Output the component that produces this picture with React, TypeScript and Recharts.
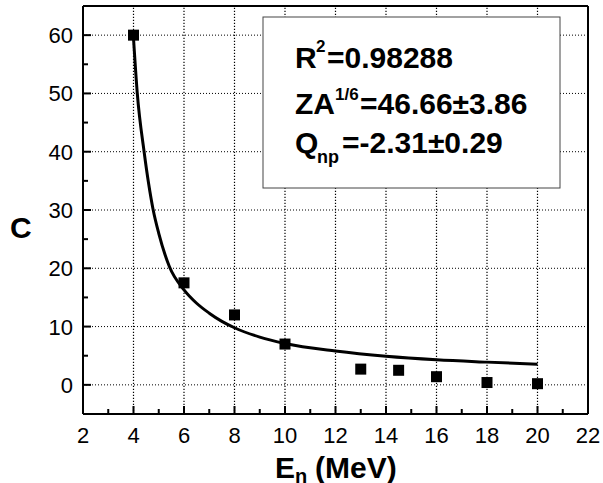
import React from 'react';
import { ComposedChart, Scatter, Line, XAxis, YAxis } from 'recharts';

// measured points
const energies = [4, 6, 8, 10, 13, 14.5, 16, 18, 20];
const cValues = [60, 17.5, 12, 7, 2.7, 2.5, 1.4, 0.4, 0.2];

// fitted curve
const fitX = [4, 4.15, 4.42, 4.6, 4.78, 5, 5.42, 6, 6.5, 7, 7.5, 8, 9, 10, 12, 14, 16, 18, 20];
const fitY = [59.5, 50, 40, 34.5, 30, 26, 20.3, 16.3, 14.0, 12.3, 10.9, 9.8, 8.2, 7.1, 5.8, 4.9, 4.3, 3.9, 3.55];

const xTicks = [2, 3, 4, 5, 6, 7, 8, 9, 10, 11, 12, 13, 14, 15, 16, 17, 18, 19, 20, 21, 22];
const yTicks = [0, 5, 10, 15, 20, 25, 30, 35, 40, 45, 50, 55, 60];
const xRange = [2, 22];
const yRange = [-5, 65];

const points = energies.map((x, i) => ({ x, y: cValues[i] }));
const fit = fitX.map((x, i) => ({ x, y: fitY[i] }));

const W = 603;
const H = 483;
const MARGIN = { top: 5, right: 14, left: 23, bottom: 39 };
const Y_AXIS_W = 60;
const X_AXIS_H = 30;
// plot box size, used to run the dotted grid from the tick to the opposite axis
const PLOT_W = W - MARGIN.left - MARGIN.right - Y_AXIS_W - 1;
const PLOT_H = H - MARGIN.top - MARGIN.bottom - X_AXIS_H - 1;

const FONT = '"Liberation Sans", Arial, sans-serif';
const tickText = { fontSize: 22, fontFamily: FONT };

// bottom axis also carries the vertical grid
const BottomTick = (p: any) => {
  const v = p.payload.value;
  const major = v % 2 === 0;
  const inner = v > xRange[0] && v < xRange[1];
  return (
    <g>
      {major && inner && (
        <path
          d={`M${p.x},${p.y} V${p.y - PLOT_H}`}
          fill="none"
          stroke="#000"
          strokeWidth={1.2}
          strokeDasharray="1.2 1.8"
        />
      )}
      <line x1={p.x} x2={p.x} y1={p.y} y2={p.y - (major ? 8 : 5)} stroke="#000" strokeWidth={2} />
      {major && (
        <text x={p.x} y={p.y + 29} textAnchor="middle" fill="#000" style={tickText}>
          {v}
        </text>
      )}
    </g>
  );
};

const TopTick = (p: any) => {
  const major = p.payload.value % 2 === 0;
  return <line x1={p.x} x2={p.x} y1={p.y} y2={p.y + (major ? 8 : 5)} stroke="#000" strokeWidth={2} />;
};

// left axis also carries the horizontal grid
const LeftTick = (p: any) => {
  const v = p.payload.value;
  const major = v % 10 === 0;
  return (
    <g>
      {major && (
        <line x1={p.x} x2={p.x + PLOT_W} y1={p.y} y2={p.y} stroke="#000" strokeWidth={1} strokeDasharray="1 2" />
      )}
      <line x1={p.x} x2={p.x + (major ? 8 : 5)} y1={p.y} y2={p.y} stroke="#000" strokeWidth={2} />
      {major && (
        <text x={p.x - 10} y={p.y + 8} textAnchor="end" fill="#000" style={tickText}>
          {v}
        </text>
      )}
    </g>
  );
};

const RightTick = (p: any) => {
  const major = p.payload.value % 10 === 0;
  return <line x1={p.x} x2={p.x - (major ? 8 : 5)} y1={p.y} y2={p.y} stroke="#000" strokeWidth={2} />;
};

const SquareDot = (p: any) => <rect x={p.cx - 5.5} y={p.cy - 5.5} width={11} height={11} fill="#000" />;

export default function App() {
  return (
    <div style={{ position: 'absolute', left: 0, top: 0, width: W, height: H, background: '#fff' }}>
      <ComposedChart width={W} height={H} margin={MARGIN}>
        <XAxis
          xAxisId="b"
          dataKey="x"
          type="number"
          domain={xRange}
          ticks={xTicks}
          interval={0}
          tickSize={0}
          tickMargin={0}
          height={X_AXIS_H}
          tick={<BottomTick />}
          axisLine={{ stroke: '#000', strokeWidth: 2 }}
        />
        <XAxis
          xAxisId="t"
          orientation="top"
          dataKey="x"
          type="number"
          domain={xRange}
          ticks={xTicks}
          interval={0}
          tickSize={0}
          tickMargin={0}
          height={1}
          tick={<TopTick />}
          axisLine={{ stroke: '#000', strokeWidth: 2 }}
        />
        <YAxis
          yAxisId="l"
          type="number"
          domain={yRange}
          ticks={yTicks}
          interval={0}
          tickSize={0}
          tickMargin={0}
          width={Y_AXIS_W}
          tick={<LeftTick />}
          axisLine={{ stroke: '#000', strokeWidth: 2 }}
        />
        <YAxis
          yAxisId="r"
          orientation="right"
          type="number"
          domain={yRange}
          ticks={yTicks}
          interval={0}
          tickSize={0}
          tickMargin={0}
          width={1}
          tick={<RightTick />}
          axisLine={{ stroke: '#000', strokeWidth: 2 }}
        />
        <Line
          xAxisId="b"
          yAxisId="l"
          data={fit}
          dataKey="y"
          type="monotone"
          stroke="#000"
          strokeWidth={3}
          dot={false}
          activeDot={false}
          isAnimationActive={false}
        />
        <Scatter
          xAxisId="b"
          yAxisId="l"
          data={points}
          dataKey="y"
          shape={<SquareDot />}
          isAnimationActive={false}
        />
      </ComposedChart>
      <svg
        width={W}
        height={H}
        style={{ position: 'absolute', left: 0, top: 0, pointerEvents: 'none' }}
        fontFamily={FONT}
        fontWeight="bold"
      >
        <rect x={263} y={17} width={297} height={171} fill="#fff" stroke="#444" strokeWidth={1} />
        <text fontSize={30} fill="#000">
          <tspan x={295} y={68}>R</tspan>
          <tspan x={316} y={52} fontSize={17}>2</tspan>
          <tspan x={327} y={68}>=0.98288</tspan>
        </text>
        <text fontSize={30} fill="#000">
          <tspan x={295} y={114}>ZA</tspan>
          <tspan x={335} y={100} fontSize={17}>1/6</tspan>
          <tspan x={360} y={114}>=46.66±3.86</tspan>
        </text>
        <text fontSize={30} fill="#000">
          <tspan x={295} y={153}>Q</tspan>
          <tspan x={317} y={163} fontSize={18}>np</tspan>
          <tspan x={342} y={153}>=-2.31±0.29</tspan>
        </text>
        <text x={10} y={238} fontSize={30} fill="#000">C</text>
        <text fontSize={30} fill="#000">
          <tspan x={275} y={478}>E</tspan>
          <tspan x={295} y={483} fontSize={20}>n</tspan>
          <tspan x={315} y={478}>(MeV)</tspan>
        </text>
      </svg>
    </div>
  );
}
